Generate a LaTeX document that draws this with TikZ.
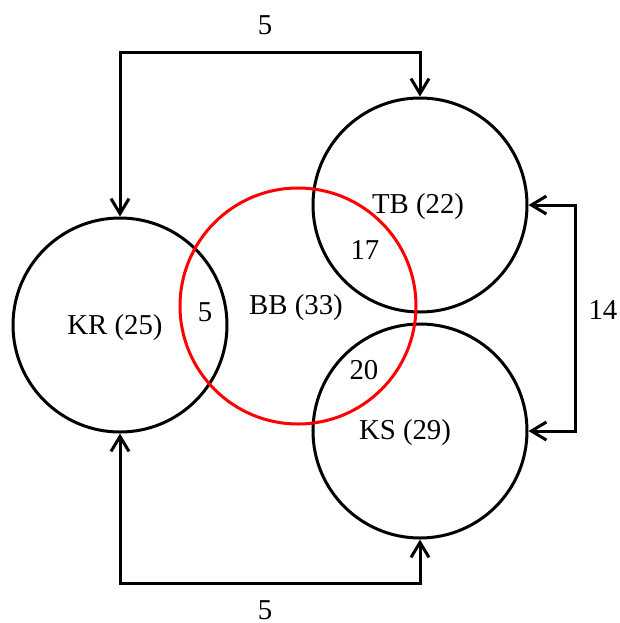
\documentclass[tikz,border=0pt]{standalone}
\usepackage{fontspec}
\setmainfont{Liberation Serif}
\usetikzlibrary{arrows.meta, positioning}
\definecolor{bbred}{RGB}{255,0,0}
\tikzset{
  setcircle/.style={
    circle, draw=black, line width=1.5pt,
    minimum size=107pt, inner sep=0pt
  },
  bbcircle/.style={
    circle, draw=bbred, line width=1.5pt,
    minimum size=118pt, inner sep=0pt
  },
  flowarrow/.style={
    {Straight Barb[length=7.5pt,width=9pt]}-{Straight Barb[length=7.5pt,width=9pt]},
    draw=black, line width=1.5pt
  },
  setlabel/.style={
    font=\fontsize{14.4}{16}\selectfont, inner sep=0pt
  },
}
\begin{document}
\begin{tikzpicture}[x=0.5pt, y=-0.5pt]

  \useasboundingbox (0,0) rectangle (620,623);

  %% Sets
  \node[setcircle] (kr) at (120,325) {};
  \node[setcircle] (tb) at (420,205) {};
  \node[setcircle] (ks) at (420,431) {};
  \node[bbcircle] (bb) at (298,306) {};

  %% Set names
  \node[setlabel] (krname) at (115,328) {KR (25)};
  \node[setlabel] (bbname) at (296,308) {BB (33)};
  \node[setlabel] (tbname) at (418,207) {TB (22)};
  \node[setlabel] (ksname) at (405,433) {KS (29)};

  %% Overlaps
  \node[setlabel] (bbtb) at (365,250) {17};
  \node[setlabel] (bbks) at (364,370) {20};
  \node[setlabel] (bbkr) at (205,312) {5};

  %% Corners of the connectors
  \coordinate (topbend) at (270,52);
  \coordinate (rightbend) at (575,318);
  \coordinate (bottombend) at (270,583);

  %% KR <-> TB
  \draw[flowarrow] (kr.north) |- (topbend) -| (tb.north);
  \node[setlabel] (toplabel) at (265,25) {5};

  %% TB <-> KS
  \draw[flowarrow] (tb.east) -| (rightbend) |- (ks.east);
  \node[setlabel] (rightlabel) at (603,310) {14};

  %% KR <-> KS
  \draw[flowarrow] (kr.south) |- (bottombend) -| (ks.south);
  \node[setlabel] (bottomlabel) at (265,610) {5};

\end{tikzpicture}
\end{document}
